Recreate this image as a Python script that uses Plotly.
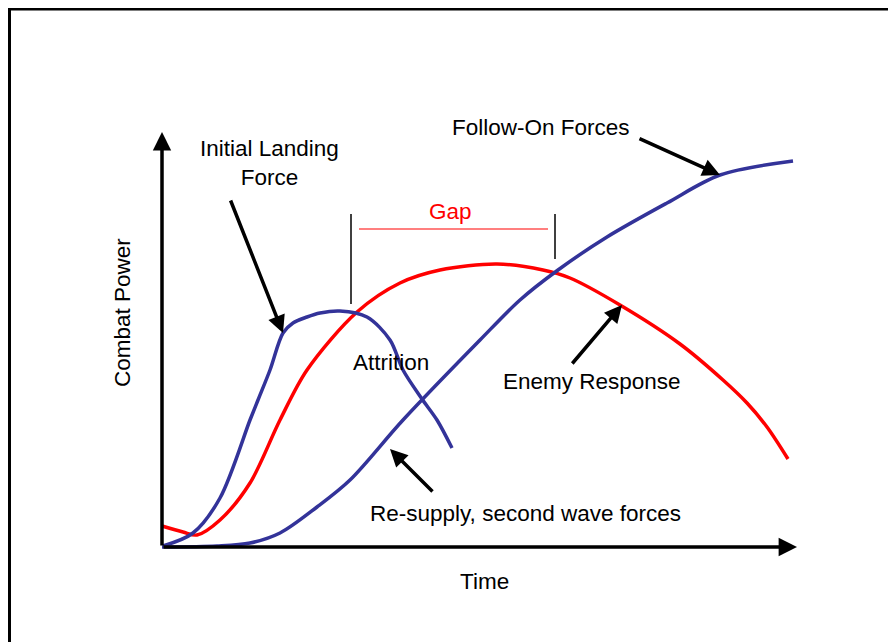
import plotly.graph_objects as go

# Curves: time (t) vs combat power (p)
landing_t = [1, 31, 58, 88, 96, 108, 121, 131, 145, 158, 178, 205, 228, 241, 260, 275, 290]
landing_p = [1, 14, 49, 127, 147, 177, 214, 224, 230, 234, 236, 230, 207, 177, 148, 127, 99]

enemy_t = [0, 21, 35, 58, 88, 118, 145, 195, 238, 278, 335, 381, 408, 458, 518, 561, 585, 605, 626]
enemy_p = [21, 15, 12, 27, 64, 127, 177, 235, 264, 277, 283, 277, 269, 242, 203, 167, 144, 120, 88]

follow_t = [0, 55, 88, 118, 155, 188, 241, 318, 358, 396, 445, 505, 558, 631]
follow_p = [0, 1, 4, 14, 40, 67, 127, 207, 247, 277, 310, 344, 372, 386]

# Gap markers
gap_left_t, gap_right_t = 189, 393
gap_left_p = [333, 243]
gap_right_p = [333, 288]
gap_line_t = [197, 386]
gap_line_p = 318

# Labels: (text, t, p)
labels = [
    ("Initial Landing<br>Force", 107, 384),
    ("Follow-On Forces", 379, 420),
    ("Attrition", 229, 185),
    ("Enemy Response", 430, 166),
    ("Re-supply, second wave forces", 363, 34),
    ("Time", 322, -34),
]

# Pointer arrows: (tail_t, tail_p, tip_t, tip_p)
pointers = [
    (68, 348, 121, 214),
    (476, 409, 558, 372),
    (409, 182, 460, 242),
    (272, 54, 228, 98),
]

BLUE = "#333399"
RED = "#ff0000"
FONT = "Liberation Sans, Arial, sans-serif"
FS = 22.5

fig = go.Figure()
fig.add_trace(go.Scatter(x=enemy_t, y=enemy_p, mode="lines", line=dict(color=RED, width=3.5, shape="spline", smoothing=0.9), hoverinfo="skip"))
fig.add_trace(go.Scatter(x=landing_t, y=landing_p, mode="lines", line=dict(color=BLUE, width=3.5, shape="spline", smoothing=0.9), hoverinfo="skip"))
fig.add_trace(go.Scatter(x=follow_t, y=follow_p, mode="lines", line=dict(color=BLUE, width=3.5, shape="spline", smoothing=0.9), hoverinfo="skip"))

# gap lines
fig.add_trace(go.Scatter(x=[gap_left_t, gap_left_t], y=gap_left_p, mode="lines", line=dict(color="black", width=1.5), hoverinfo="skip"))
fig.add_trace(go.Scatter(x=[gap_right_t, gap_right_t], y=gap_right_p, mode="lines", line=dict(color="black", width=1.5), hoverinfo="skip"))
fig.add_trace(go.Scatter(x=gap_line_t, y=[gap_line_p, gap_line_p], mode="lines", line=dict(color=RED, width=1.2), hoverinfo="skip"))

annotations = []
for text, t, p in labels:
    annotations.append(dict(x=t, y=p, text=text, showarrow=False, xref="x", yref="y",
                            font=dict(family=FONT, size=FS, color="black"), align="center"))
annotations.append(dict(x=288, y=336, text="Gap", showarrow=False, xref="x", yref="y",
                        font=dict(family=FONT, size=FS, color=RED)))
annotations.append(dict(x=-40, y=234, text="Combat Power", showarrow=False, xref="x", yref="y",
                        textangle=-90, font=dict(family=FONT, size=FS, color="black")))
for at, ap, tt, tp in pointers:
    annotations.append(dict(x=tt, y=tp, ax=at, ay=ap, xref="x", yref="y", axref="x", ayref="y",
                            text="", showarrow=True, arrowhead=2, arrowsize=1.0, arrowwidth=3.5,
                            arrowcolor="black", standoff=0, startstandoff=0))
# axes arrows
annotations.append(dict(x=0, y=415, ax=0, ay=0, xref="x", yref="y", axref="x", ayref="y",
                        text="", showarrow=True, arrowhead=2, arrowsize=1.05, arrowwidth=3.5, arrowcolor="black"))
annotations.append(dict(x=635, y=0, ax=0, ay=0, xref="x", yref="y", axref="x", ayref="y",
                        text="", showarrow=True, arrowhead=2, arrowsize=1.05, arrowwidth=3.5, arrowcolor="black"))

# frame (top and left edges)
shapes = [
    dict(type="line", x0=-153, x1=740, y0=538, y1=538, xref="x", yref="y", line=dict(color="black", width=3)),
    dict(type="line", x0=-152.5, x1=-152.5, y0=539, y1=-100, xref="x", yref="y", line=dict(color="black", width=3)),
]

fig.update_layout(
    width=888, height=634,
    margin=dict(l=0, r=0, t=0, b=0),
    paper_bgcolor="white", plot_bgcolor="white",
    showlegend=False,
    xaxis=dict(range=[-154, 734], visible=False, fixedrange=True),
    yaxis=dict(range=[-95, 539], visible=False, fixedrange=True),
    annotations=annotations,
    shapes=shapes,
)

fig.write_html("out.html")
